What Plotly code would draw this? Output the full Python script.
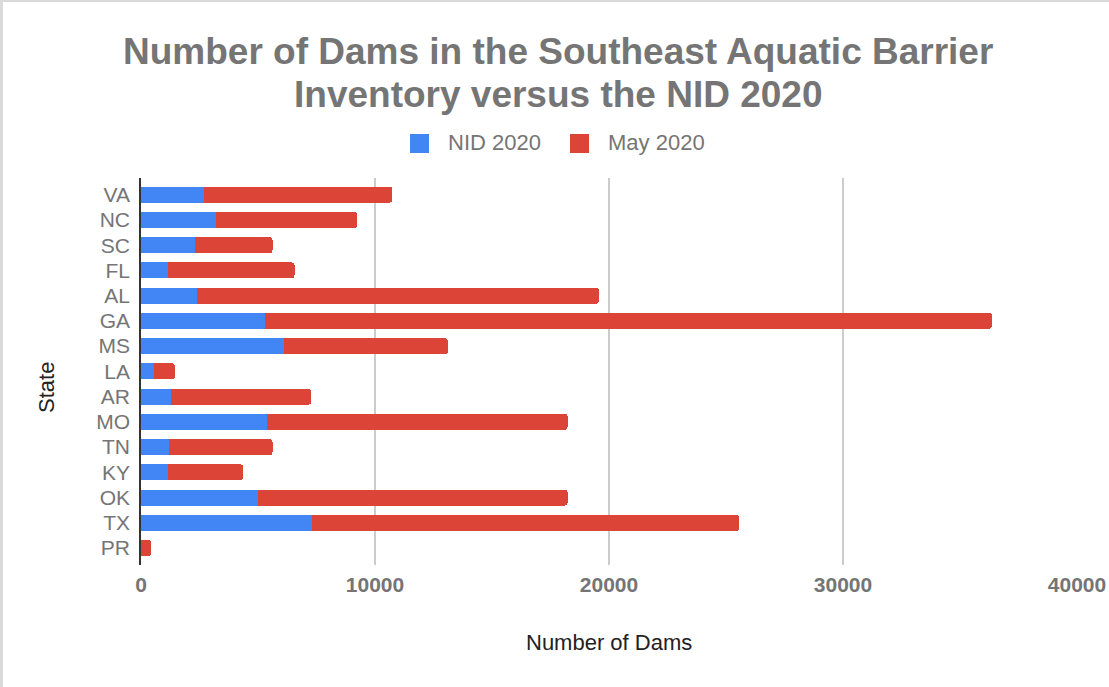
import plotly.graph_objects as go

states = ["VA", "NC", "SC", "FL", "AL", "GA", "MS", "LA", "AR", "MO", "TN", "KY", "OK", "TX", "PR"]
nid_2020 = [2700, 3190, 2320, 1140, 2400, 5320, 6110, 570, 1290, 5390, 1210, 1140, 5000, 7290, 0]
may_2020 = [8040, 6060, 3300, 5420, 17170, 31040, 7000, 880, 5980, 12840, 4410, 3220, 13230, 18270, 430]
x_ticks = [0, 10000, 20000, 30000, 40000]

W, H = 1109, 687
ML, MR, MT, MB = 141, 32, 178, 122
PW = W - ML - MR
PH = H - MT - MB


def px(x):
    return (x - ML) / PW


def py(y):
    return (H - MB - y) / PH


BLUE = "#4285F4"
RED = "#DB4437"
GRAY = "#757575"
FONT = "Arial, Liberation Sans, sans-serif"

fig = go.Figure()
fig.add_trace(go.Bar(y=states, x=nid_2020, orientation="h", name="NID 2020",
                     marker=dict(color=BLUE, line=dict(width=0))))
fig.add_trace(go.Bar(y=states, x=may_2020, orientation="h", name="May 2020",
                     marker=dict(color=RED, line=dict(width=0))))

fig.update_layout(
    width=W, height=H,
    margin=dict(l=ML, r=MR, t=MT, b=MB, pad=0, autoexpand=False),
    barmode="stack",
    bargap=0.366,
    barcornerradius=3,
    paper_bgcolor="white",
    plot_bgcolor="white",
    showlegend=False,
    font=dict(family=FONT, color=GRAY, size=21),
    xaxis=dict(
        range=[0, 40000],
        tickvals=x_ticks,
        ticktext=[str(v) for v in x_ticks],
        tickfont=dict(family=FONT, size=21, color=GRAY, weight="bold"),
        showgrid=True, gridcolor="#cccccc", gridwidth=1.5,
        zeroline=False,
        ticks="", ticklabelstandoff=5,
        automargin=False,
        fixedrange=True,
    ),
    yaxis=dict(
        categoryorder="array", categoryarray=states,
        range=[14.67, -0.66],
        tickfont=dict(family=FONT, size=21, color=GRAY),
        showgrid=False, zeroline=False,
        showline=True, linecolor="#333333", linewidth=1.5,
        ticks="", ticklabelstandoff=5,
        automargin=False,
        fixedrange=True,
    ),
)

annotations = [
    dict(text="<b>Number of Dams in the Southeast Aquatic Barrier</b>", x=px(558), y=py(51),
         font=dict(family=FONT, size=37, color=GRAY)),
    dict(text="<b>Inventory versus the NID 2020</b>", x=px(558), y=py(94),
         font=dict(family=FONT, size=37, color=GRAY)),
    dict(text="Number of Dams", x=px(609), y=py(642),
         font=dict(family=FONT, size=22, color="#222222")),
    dict(text="State", x=px(46), y=py(388), textangle=-90,
         font=dict(family=FONT, size=22, color="#222222")),
    dict(text="NID 2020", x=px(446), y=py(143), xanchor="left",
         font=dict(family=FONT, size=22, color=GRAY)),
    dict(text="May 2020", x=px(606), y=py(143), xanchor="left",
         font=dict(family=FONT, size=22, color=GRAY)),
]
for a in annotations:
    a.setdefault("xanchor", "center")
    a.setdefault("yanchor", "middle")
    a.update(xref="paper", yref="paper", showarrow=False)
fig.update_layout(annotations=annotations)

shapes = [
    dict(type="rect", x0=px(410), x1=px(429), y0=py(153), y1=py(134),
         fillcolor=BLUE, line=dict(width=0)),
    dict(type="rect", x0=px(570), x1=px(589), y0=py(153), y1=py(134),
         fillcolor=RED, line=dict(width=0)),
    dict(type="rect", x0=px(0), x1=px(3), y0=py(H), y1=py(0),
         fillcolor="#dadada", line=dict(width=0)),
    dict(type="rect", x0=px(0), x1=px(W), y0=py(2), y1=py(0),
         fillcolor="#dadada", line=dict(width=0)),
]
for s in shapes:
    s.update(xref="paper", yref="paper", layer="above")
fig.update_layout(shapes=shapes)

fig.write_html("out.html", config={"displayModeBar": False})
